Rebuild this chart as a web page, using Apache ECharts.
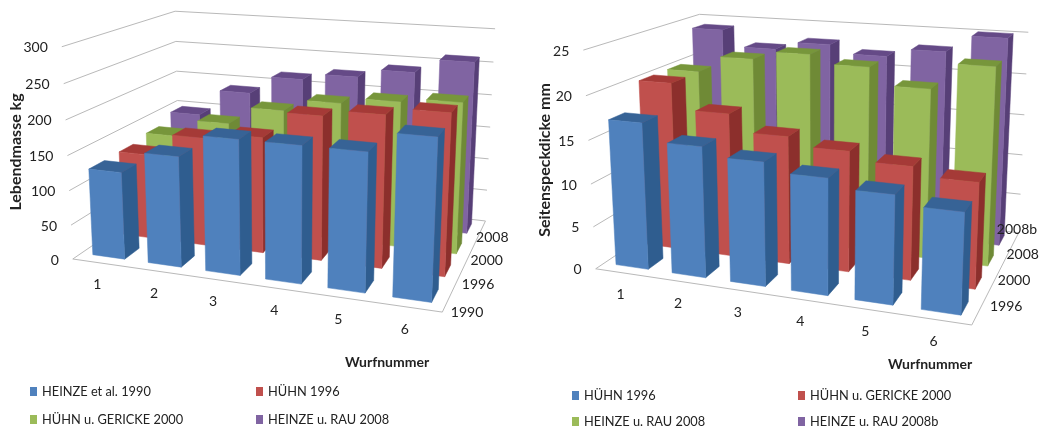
<!DOCTYPE html>
<html><head><meta charset="utf-8">
<style>html,body{margin:0;padding:0;background:#fff}#a,#b{position:absolute;top:0;width:525px;height:429px}#a{left:0}#b{left:525px}</style>
<script src="https://cdn.jsdelivr.net/npm/echarts@6/dist/echarts.min.js"></script>
</head><body><div id="a"></div><div id="b"></div>
<script>
const categories = ['1','2','3','4','5','6'];

const leftRows = ['1990','1996','2000','2008'];
const leftNames = ['HEINZE et al. 1990','HÜHN 1996','HÜHN u. GERICKE 2000','HEINZE u. RAU 2008'];
const leftTicks = [0,50,100,150,200,250,300];
const left1990 = [126,157,189,189,189,216];
const left1996 = [127,160,169,207,216,226];
const left2000 = [133,160,187,205,214,220];
const left2008 = [146,188,216,226,239,260];

const rightRows = ['1996','2000','2008','2008b'];
const rightNames = ['HÜHN 1996','HÜHN u. GERICKE 2000','HEINZE u. RAU 2008','HEINZE u. RAU 2008b'];
const rightTicks = [0,5,10,15,20,25];
const right1996 = [17,15,14,13,12,11];
const right2000 = [20,17,15,14,13,12];
const right2008 = [20,22,23,22,20,23];
const right2008b = [24,22,23,22,23,25];

const palette = [
 {front:'#4f81bd',side:'#2f5d8f',top:'#376396'},
 {front:'#c0504d',side:'#8c2f2c',top:'#a53a37'},
 {front:'#9bbb59',side:'#6f8a36',top:'#77963b'},
 {front:'#8064a2',side:'#573f77',top:'#654a87'}
];
const FONT = 'Lato, "Open Sans", sans-serif';

function solve(A,b){
  const n=b.length, M=A.map((r,i)=>r.concat(b[i]));
  for(let c=0;c<n;c++){
    let p=c; for(let r=c+1;r<n;r++) if(Math.abs(M[r][c])>Math.abs(M[p][c])) p=r;
    [M[c],M[p]]=[M[p],M[c]];
    for(let r=0;r<n;r++){ if(r===c) continue; const f=M[r][c]/M[c][c]; for(let k=c;k<=n;k++) M[r][k]-=f*M[c][k]; }
  }
  return M.map((r,i)=>r[n]/r[i]);
}
function fitCamera(pts){
  const rows=[],rhs=[];
  pts.forEach(([X,Y,Z,u,v])=>{
    rows.push([X,Y,Z,1,0,0,0,0,-u*X,-u*Y,-u*Z]); rhs.push(u);
    rows.push([0,0,0,0,X,Y,Z,1,-v*X,-v*Y,-v*Z]); rhs.push(v);
  });
  const n=11, A=[],b=[];
  for(let i=0;i<n;i++){ A.push([]); for(let j=0;j<n;j++){ let s=0; rows.forEach(r=>s+=r[i]*r[j]); A[i].push(s);} let s=0; rows.forEach((r,k)=>s+=r[i]*rhs[k]); b.push(s); }
  const p=solve(A,b);
  return (X,Y,Z)=>{ const w=p[8]*X+p[9]*Y+p[10]*Z+1; return [(p[0]*X+p[1]*Y+p[2]*Z+p[3])/w,(p[4]*X+p[5]*Y+p[6]*Z+p[7])/w]; };
}

function build(el,cfg){
  const chart=echarts.init(document.getElementById(el),null,{renderer:'canvas'});
  const proj=fitCamera(cfg.corners);
  const G={l:0,t:0,w:100,h:100};
  const nC=categories.length, nR=cfg.rows.length;
  const norm=(api,v)=>{ const p=api.coord([0,v]); return (G.t+G.h-p[1])/G.h; };
  const line=(pts)=>({type:'polyline',shape:{points:pts},style:{stroke:'#b9b9b9',lineWidth:1,fill:null},silent:true});
  const txt=(s,x,y,al)=>({type:'text',style:{text:s,x:x,y:y,fill:'#222',font:'14px '+FONT,textAlign:al,textVerticalAlign:'middle'},silent:true});
  const boldTxt=(s,x,y,rot,size)=>({type:'text',x:x,y:y,rotation:rot,style:{text:s,x:0,y:0,fill:'#222',font:'bold '+size+'px '+FONT,textAlign:'center',textVerticalAlign:'middle'},silent:true});

  const frame={type:'custom',name:'frame',silent:true,coordinateSystem:'cartesian2d',clip:false,
    data:cfg.ticks.map(t=>[0,t]),encode:{x:0,y:1},
    renderItem:(p,api)=>{
      const z=norm(api,api.value(1)), a=proj(0,0,z), b=proj(0,1,z), c=proj(1,1,z);
      return {type:'group',children:[line([a,b,c]),txt(String(api.value(1)),a[0]-14,a[1]+1,'right')]};
    }};
  const floor={type:'custom',name:'floor',silent:true,coordinateSystem:'cartesian2d',clip:false,
    data:[[0,0]],encode:{x:0,y:1},
    renderItem:()=>line([proj(0,0,0),proj(1,0,0),proj(1,1,0)])};
  const labels={type:'custom',name:'labels',silent:true,coordinateSystem:'cartesian2d',clip:false,
    data:[[0,0]],encode:{x:0,y:1},
    renderItem:()=>{
      const ch=[];
      categories.forEach((c,i)=>{const q=proj((i+.5)/nC,0,0); ch.push(txt(c,q[0]-3,q[1]+cfg.catDy,'center'));});
      cfg.rows.forEach((r,i)=>{const q=proj(1,(i+.5)/nR,0); ch.push(txt(r,q[0]+cfg.rowOff[i][0],q[1]+cfg.rowOff[i][1],'left'));});
      ch.push(boldTxt(cfg.yName[0],cfg.yName[1],cfg.yName[2],Math.PI/2,16));
      ch.push(boldTxt('Wurfnummer',cfg.xName[0],cfg.xName[1],0,14));
      return {type:'group',children:ch};
    }};

  const barW=.58, barD=.5;
  const bars=cfg.series.map((vals,r)=>({
    type:'custom',name:cfg.names[r],coordinateSystem:'cartesian2d',clip:false,silent:true,
    itemStyle:{color:palette[r].front},
    data:vals.map((v,i)=>[i,v]),encode:{x:0,y:1},
    renderItem:(p,api)=>{
      const i=api.value(0), z=norm(api,api.value(1));
      const x0=(i+.5-barW/2)/nC,x1=(i+.5+barW/2)/nC,y0=(r+.5-.46/2)/nR,y1=y0+barD/nR;
      const quad=(pts,col)=>({type:'polygon',shape:{points:pts},style:{fill:col,stroke:col,lineWidth:.5},silent:true});
      return {type:'group',children:[
        quad([proj(x1,y0,0),proj(x1,y1,0),proj(x1,y1,z),proj(x1,y0,z)],palette[r].side),
        quad([proj(x0,y0,z),proj(x1,y0,z),proj(x1,y1,z),proj(x0,y1,z)],palette[r].top),
        quad([proj(x0,y0,0),proj(x1,y0,0),proj(x1,y0,z),proj(x0,y0,z)],palette[r].front)
      ]};
    }})).reverse();

  const legends=cfg.names.map((n,i)=>({
    data:[n],left:cfg.legend[i][0],top:cfg.legend[i][1],selectedMode:false,icon:'rect',itemWidth:7,itemHeight:9,padding:0,
    textStyle:{fontFamily:FONT,fontSize:12.8,color:'#222'}
  }));

  chart.setOption({
    animation:false,backgroundColor:'#fff',
    grid:{left:G.l,top:G.t,width:G.w,height:G.h,show:false},
    xAxis:{type:'category',data:categories,show:false},
    yAxis:{type:'value',min:0,max:cfg.ticks[cfg.ticks.length-1],show:false},
    legend:legends,
    series:[frame,floor].concat(bars,[labels])
  });
}

build('a',{
  rows:leftRows,names:leftNames,ticks:leftTicks,series:[left1990,left1996,left2000,left2008],
  corners:[[0,0,0,72,257],[1,0,0,443,313],[1,1,0,485,220],[0,1,0,180,188],[0,0,1,62,48],[0,1,1,175,10],[1,1,1,495,29]],
  catDy:22,rowOff:[[2,14],[1,12],[-1,10],[-5,7]],
  legend:[[30,385],[256,385],[30,413],[256,413]],
  yName:['Lebendmasse kg',16,152],xName:[387,362]
});
build('b',{
  rows:rightRows,names:rightNames,ticks:rightTicks,series:[right1996,right2000,right2008,right2008b],
  corners:[[0,0,0,70,267],[1,0,0,448,325],[1,1,0,493,233],[0,1,0,180,197],[0,0,1,58,52],[0,1,1,175,13],[1,1,1,503,32]],
  catDy:22,rowOff:[[11,-5],[6,-5],[3,-8],[-17,-13]],
  legend:[[47,389],[273,389],[47,415],[273,415]],
  yName:['Seitenspeckdicke mm',20,160],xName:[405,364]
});
</script></body></html>
